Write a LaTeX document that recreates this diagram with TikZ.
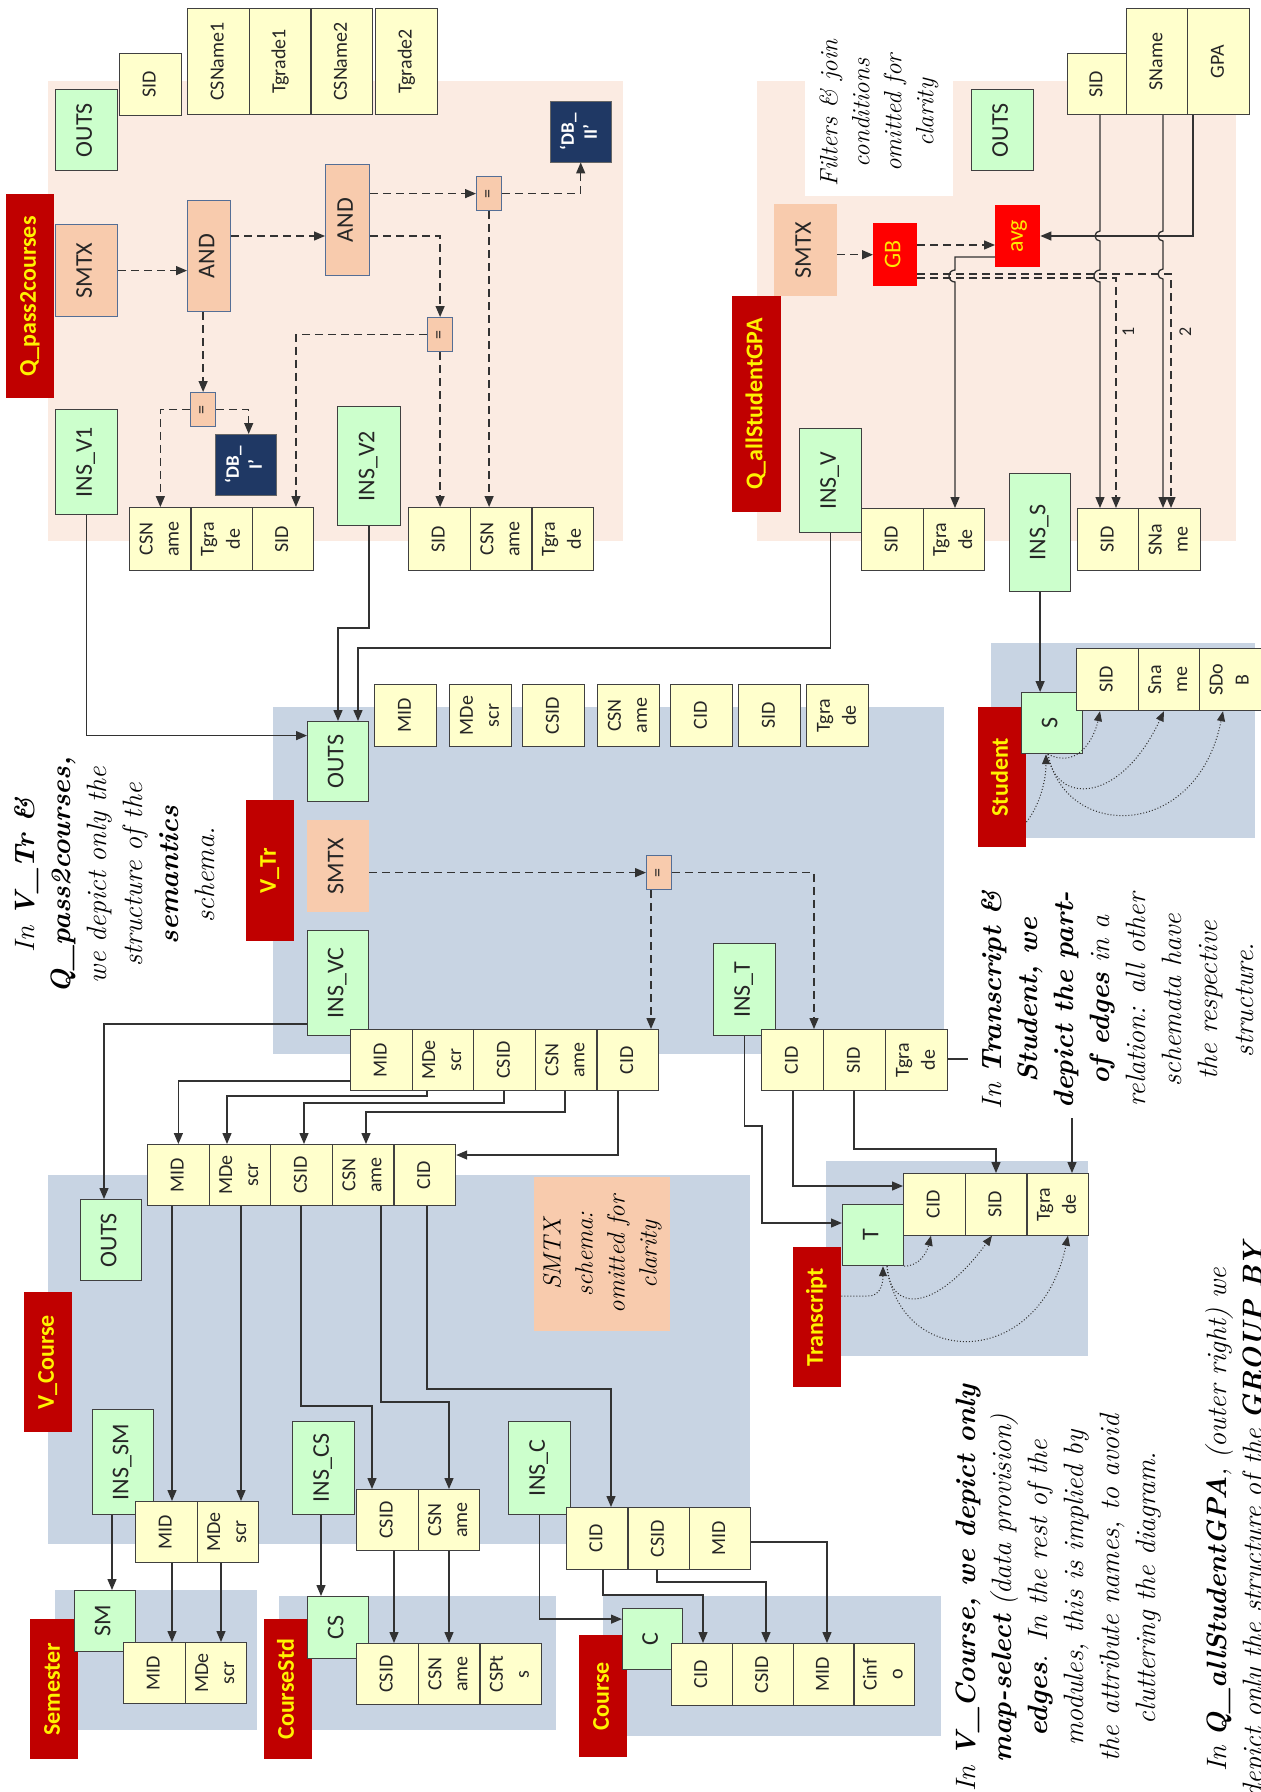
\documentclass[tikz,border=0pt]{standalone}
\usepackage{fontspec}
\setsansfont{Carlito}
\usepackage{graphicx}
\usetikzlibrary{arrows.meta, positioning, calc}

\definecolor{insgreen}{RGB}{204,255,204}
\definecolor{attryellow}{RGB}{255,255,204}
\definecolor{smtxpeach}{RGB}{248,203,173}
\definecolor{modblue}{RGB}{200,212,227}
\definecolor{qrypeach}{RGB}{251,235,226}
\definecolor{labelred}{RGB}{192,0,0}
\definecolor{dbblue}{RGB}{31,56,100}
\definecolor{opborder}{RGB}{84,110,150}
\definecolor{edgegray}{RGB}{50,50,50}

\newcommand{\vtext}[1]{\rotatebox{90}{\begin{tabular}{@{}c@{}}#1\end{tabular}}}

\begin{document}
\begin{tikzpicture}[x=1pt, y=-1pt,
    ins/.style={draw=black!75, fill=insgreen, line width=1.2pt, inner sep=0pt,
      text=black!85, font=\sffamily\fontsize{24}{26}\selectfont},
    attr/.style={draw=black!75, fill=attryellow, line width=1.2pt, inner sep=0pt,
      minimum width=61.5pt, minimum height=61.5pt, text=black!85,
      font=\sffamily\fontsize{20}{26}\selectfont},
    smtx/.style={fill=smtxpeach, inner sep=0pt, text=black!85,
      font=\sffamily\fontsize{24}{26}\selectfont},
    op/.style={smtx, draw=opborder, line width=1.2pt},
    eqop/.style={op, minimum width=25pt, minimum height=34pt,
      font=\sffamily\fontsize{18}{20}\selectfont},
    db/.style={draw=black!60, fill=dbblue, text=white, inner sep=0pt, minimum width=61pt,
      minimum height=61pt, font=\sffamily\bfseries\fontsize{19}{23}\selectfont},
    agg/.style={fill=red, text=yellow!90!orange, inner sep=0pt,
      font=\sffamily\fontsize{24}{26}\selectfont},
    modlabel/.style={fill=labelred, text=yellow, inner sep=0pt, minimum width=48pt,
      font=\sffamily\bfseries\fontsize{24}{28}\selectfont},
    note/.style={inner sep=0pt, font=\rmfamily\itshape\fontsize{28}{36}\selectfont},
    conn/.style={draw=edgegray, line width=1.3pt, -{Triangle[length=11pt, width=9pt]}},
    ctrl/.style={conn, dash pattern=on 8pt off 5pt},
    part/.style={draw=edgegray, line width=1pt, dotted, -{Triangle[length=10pt, width=8pt]}},
  ]
  \useasboundingbox (0,0) rectangle (1261,1792);

  % query and module panels
  \fill[qrypeach] (48,81) rectangle (623,541);
  \fill[qrypeach] (757,81) rectangle (1236,541);
  \foreach \a/\b/\c/\d in {273/707/944/1054, 991/643/1255/838, 826/1161/1088/1356,
      48/1175/750/1544, 55/1590/257/1730, 279/1596/556/1730, 603/1596/941/1736}
    \fill[modblue] (\a,\b) rectangle (\c,\d);

  % module names
  \node[modlabel, anchor=north west, minimum height=204pt] (qpLabel) at (6,194) {\vtext{Q\_pass2courses}};
  \node[modlabel, anchor=north west, minimum width=49pt, minimum height=216pt] (qgLabel) at (732,296) {\vtext{Q\_allStudentGPA}};
  \node[modlabel, anchor=north west, minimum height=141pt] (trLabel) at (246,800) {\vtext{V\_Tr}};
  \node[modlabel, anchor=north west, minimum height=140pt] (stLabel) at (978,707) {\vtext{Student}};
  \node[modlabel, anchor=north west, minimum height=140pt] (tsLabel) at (793,1247) {\vtext{Transcript}};
  \node[modlabel, anchor=north west, minimum height=140pt] (vcLabel) at (24,1292) {\vtext{V\_Course}};
  \node[modlabel, anchor=north west, minimum height=140pt] (smLabel) at (30,1619) {\vtext{Semester}};
  \node[modlabel, anchor=north west, minimum height=140pt] (csLabel) at (264,1619) {\vtext{CourseStd}};
  \node[modlabel, anchor=north west, minimum height=122pt] (coLabel) at (579,1635) {\vtext{Course}};

  % Q_pass2courses
  \node[ins, anchor=north west, minimum width=62pt, minimum height=81pt] (qpOuts) at (55,89) {\vtext{OUTS}};
  \node[attr, anchor=north west] (qpOutSid) at (119,53) {\vtext{SID}};
  \foreach \nm/\tx [count=\i from 0] in {Cn1/CSName1, Tg1/Tgrade1, Cn2/CSName2}
    \node[attr, anchor=north west, minimum height=106pt] (qpOut\nm) at ({187+61.7*\i},8) {\vtext{\tx}};
  \node[attr, anchor=north west, minimum height=106pt] (qpOutTg2) at (375,8) {\vtext{Tgrade2}};
  \node[op, anchor=north west, minimum width=62pt, minimum height=92pt] (qpSmtx) at (55,224) {\vtext{SMTX}};
  \node[op, anchor=north west, minimum width=43pt, minimum height=111pt] (qpAnd1) at (187,200) {\vtext{AND}};
  \node[op, anchor=north west, minimum width=44pt, minimum height=111pt] (qpAnd2) at (325,164) {\vtext{AND}};
  \node[eqop, anchor=north west] (qpEq1) at (190,392) {\vtext{=}};
  \node[eqop, anchor=north west] (qpEq2) at (427,317) {\vtext{=}};
  \node[eqop, anchor=north west] (qpEq3) at (476,176) {\vtext{=}};
  \node[db, anchor=north west] (qpDb1) at (215,434) {\vtext{`DB\_\\I'}};
  \node[db, anchor=north west] (qpDb2) at (550,101) {\vtext{`DB\_\\II'}};
  \node[ins, anchor=north west, minimum width=62pt, minimum height=105pt] (qpInsA) at (55,409) {\vtext{INS\_V1}};
  \node[ins, anchor=north west, minimum width=63pt, minimum height=119pt] (qpInsB) at (337,406) {\vtext{INS\_V2}};
  \foreach \nm/\tx [count=\i from 0] in {Csn/CSN\\ame, Tgr/Tgra\\de, Sid/SID}
    \node[attr, anchor=north west, minimum height=63pt] (qpA\nm) at ({129+61.3*\i},507) {\vtext{\tx}};
  \foreach \nm/\tx [count=\i from 0] in {Sid/SID, Csn/CSN\\ame, Tgr/Tgra\\de}
    \node[attr, anchor=north west, minimum height=63pt] (qpB\nm) at ({408+61.7*\i},507) {\vtext{\tx}};

  % Q_allStudentGPA
  \node[note, fill=white, inner sep=10pt, font=\rmfamily\itshape\fontsize{25}{32}\selectfont] (qgNote) at (879,113)
    {\vtext{Filters \& join\\conditions\\omitted for\\clarity}};
  \node[ins, anchor=north west, minimum width=62pt, minimum height=81pt] (qgOuts) at (971,89) {\vtext{OUTS}};
  \node[attr, anchor=north west, minimum width=59pt, minimum height=61pt] (qgOutSid) at (1067,53) {\vtext{SID}};
  \node[attr, anchor=north west, minimum width=61pt, minimum height=106pt] (qgOutSna) at (1126,8) {\vtext{SName}};
  \node[attr, anchor=north west, minimum width=62pt, minimum height=106pt] (qgOutGpa) at (1187,8) {\vtext{GPA}};
  \node[smtx, anchor=north west, minimum width=63pt, minimum height=92pt] (qgSmtx) at (774,204) {\vtext{SMTX}};
  \node[agg, anchor=north west, minimum width=44pt, minimum height=63pt] (qgGb) at (873,223) {\vtext{GB}};
  \node[agg, anchor=north west, minimum width=45pt, minimum height=62pt] (qgAvg) at (995,205) {\vtext{avg}};
  \node[ins, anchor=north west, minimum width=62pt, minimum height=104pt] (qgInsV) at (799,428) {\vtext{INS\_V}};
  \node[ins, anchor=north west, minimum width=61pt, minimum height=118pt] (qgInsS) at (1009,473) {\vtext{INS\_S}};
  \foreach \nm/\tx [count=\i from 0] in {Sid/SID, Tgr/Tgra\\de}
    \node[attr, anchor=north west, minimum height=62pt] (qgV\nm) at ({861+61.5*\i},508) {\vtext{\tx}};
  \foreach \nm/\tx [count=\i from 0] in {Sid/SID, Sna/SNa\\me}
    \node[attr, anchor=north west, minimum height=62pt] (qgS\nm) at ({1077+61*\i},508) {\vtext{\tx}};
  \node[font=\sffamily\fontsize{18}{20}\selectfont, text=black!85] (qgOne) at (1130,332) {\vtext{1}};
  \node[font=\sffamily\fontsize{18}{20}\selectfont, text=black!85] (qgTwo) at (1187,332) {\vtext{2}};

  % V_Tr
  \node[ins, anchor=north west, minimum width=61pt, minimum height=80pt] (trOuts) at (307,721) {\vtext{OUTS}};
  \foreach \nm/\tx/\xx in {Mid/MID/374, Mde/MDe\\scr/449, Csid/CSID/522, Csn/CSN\\ame/597,
      Cid/CID/670, Sid/SID/738, Tgr/Tgra\\de/806}
    \node[attr, anchor=north west, minimum width=62pt, minimum height=62pt] (trOut\nm) at (\xx,684) {\vtext{\tx}};
  \node[smtx, anchor=north west, minimum width=62pt, minimum height=92pt] (trSmtx) at (307,820) {\vtext{SMTX}};
  \node[ins, anchor=north west, minimum width=61pt, minimum height=105pt] (trInsVc) at (307,930) {\vtext{INS\_VC}};
  \node[eqop, anchor=north west] (trEq) at (646,855) {\vtext{=}};
  \foreach \nm/\tx [count=\i from 0] in {Mid/MID, Mde/MDe\\scr, Csid/CSID, Csn/CSN\\ame, Cid/CID}
    \node[attr, anchor=north west, minimum width=61.6pt, minimum height=61pt] (trVc\nm) at ({350+61.6*\i},1029) {\vtext{\tx}};
  \node[ins, anchor=north west, minimum width=62pt, minimum height=92pt] (trInsT) at (713,943) {\vtext{INS\_T}};
  \foreach \nm/\tx [count=\i from 0] in {Cid/CID, Sid/SID, Tgr/Tgra\\de}
    \node[attr, anchor=north west, minimum width=62pt, minimum height=61pt] (trT\nm) at ({761+62*\i},1029) {\vtext{\tx}};

  % Transcript and Student
  \node[ins, anchor=north west, minimum width=61pt, minimum height=61pt] (tsT) at (842,1204) {\vtext{T}};
  \foreach \nm/\tx [count=\i from 0] in {Cid/CID, Sid/SID, Tgr/Tgra\\de}
    \node[attr, anchor=north west] (ts\nm) at ({903+61.7*\i},1173) {\vtext{\tx}};
  \node[ins, anchor=north west, minimum width=61pt, minimum height=61pt] (stS) at (1021,692) {\vtext{S}};
  \foreach \nm/\tx [count=\i from 0] in {Sid/SID, Sna/Sna\\me, Sdo/SDo\\B}
    \node[attr, anchor=north west, minimum height=62pt] (st\nm) at ({1076+61.5*\i},648) {\vtext{\tx}};

  % V_Course
  \node[ins, anchor=north west, minimum width=61pt, minimum height=81pt] (vcOuts) at (80,1199) {\vtext{OUTS}};
  \foreach \nm/\tx [count=\i from 0] in {Mid/MID, Mde/MDe\\scr, Csid/CSID, Csn/CSN\\ame, Cid/CID}
    \node[attr, anchor=north west, minimum width=61.6pt, minimum height=61pt] (vc\nm) at ({147+61.6*\i},1144) {\vtext{\tx}};
  \node[ins, anchor=north west, minimum width=61pt, minimum height=105pt] (vcInsSm) at (92,1409) {\vtext{INS\_SM}};
  \foreach \nm/\tx [count=\i from 0] in {Mid/MID, Mde/MDe\\scr}
    \node[attr, anchor=north west, minimum height=61pt] (vcSm\nm) at ({135+61.5*\i},1501) {\vtext{\tx}};
  \node[ins, anchor=north west, minimum width=62pt, minimum height=93pt] (vcInsCs) at (292,1421) {\vtext{INS\_CS}};
  \foreach \nm/\tx [count=\i from 0] in {Csid/CSID, Csn/CSN\\ame}
    \node[attr, anchor=north west, minimum height=61pt] (vcCs\nm) at ({356+61.5*\i},1489) {\vtext{\tx}};
  \node[ins, anchor=north west, minimum width=62pt, minimum height=93pt] (vcInsC) at (508,1421) {\vtext{INS\_C}};
  \foreach \nm/\tx [count=\i from 0] in {Cid/CID, Csid/CSID, Mid/MID}
    \node[attr, anchor=north west, minimum width=61.3pt, minimum height=62pt] (vcC\nm) at ({566+61.3*\i},1507) {\vtext{\tx}};
  \node[note, fill=smtxpeach, anchor=north west, minimum width=136pt, minimum height=154pt,
    font=\rmfamily\itshape\fontsize{25}{32}\selectfont] (vcNote) at (534,1177)
    {\vtext{SMTX\\schema:\\omitted for\\clarity}};

  % Semester, CourseStd, Course
  \node[ins, anchor=north west, minimum width=61pt, minimum height=61pt] (semSm) at (74,1590) {\vtext{SM}};
  \foreach \nm/\tx [count=\i from 0] in {Mid/MID, Mde/MDe\\scr}
    \node[attr, anchor=north west, minimum height=61pt] (sem\nm) at ({123+61.5*\i},1642) {\vtext{\tx}};
  \node[ins, anchor=north west, minimum width=61pt, minimum height=62pt] (csdCs) at (307,1596) {\vtext{CS}};
  \foreach \nm/\tx [count=\i from 0] in {Csid/CSID, Csn/CSN\\ame, Cspt/CSPt\\s}
    \node[attr, anchor=north west, minimum height=61pt] (csd\nm) at ({356+61.7*\i},1643) {\vtext{\tx}};
  \node[ins, anchor=north west, minimum width=60pt, minimum height=61pt] (coC) at (622,1608) {\vtext{C}};
  \foreach \nm/\tx [count=\i from 0] in {Cid/CID, Csid/CSID, Mid/MID, Cinf/Cinf\\o}
    \node[attr, anchor=north west, minimum width=60.8pt, minimum height=62pt] (co\nm) at ({671+60.8*\i},1643) {\vtext{\tx}};

  % semantics edges of Q_pass2courses
  \draw[ctrl] (qpSmtx.east) -- (qpSmtx.east -| qpAnd1.west);
  \draw[ctrl] (qpAnd1.east |- 0,236) -- (qpAnd2.west |- 0,236);
  \draw[ctrl] (qpEq1.north |- qpAnd1.south) -- (qpEq1.north);
  \draw[ctrl] (qpEq1.west) -| (qpACsn.north);
  \draw[ctrl] (qpEq1.east) -| ([xshift=3pt]qpDb1.north);
  \draw[ctrl] (qpAnd2.east |- 0,236) -| (qpEq2.north);
  \draw[ctrl] (qpEq2.west) -| ([xshift=13pt]qpASid.north);
  \draw[ctrl] (qpEq2.south) -- (qpEq2.south |- qpBSid.north);
  \draw[ctrl] (qpAnd2.east |- qpEq3.west) -- (qpEq3.west);
  \draw[ctrl] (qpEq3.east) -| (qpDb2.south);
  \draw[ctrl] (qpEq3.south) -- (qpEq3.south |- qpBCsn.north);

  % Q_allStudentGPA
  \draw[ctrl] (qgSmtx.east |- qgGb.west) -- (qgGb.west);
  \draw[ctrl] (qgGb.east |- 0,245) -- (qgAvg.west |- 0,245);
  \draw[conn] (1193,0 |- qgOutGpa.south) -- (1193,236) -- (qgAvg.east |- 0,236);
  \draw[conn] (1100,0 |- qgOutSid.south) -- (1100,231) arc[start angle=90, end angle=270, radius=5pt]
    -- (1100,270) arc[start angle=90, end angle=270, radius=6pt] -- (1100,0 |- qgSSid.north);
  \draw[conn] (1163,0 |- qgOutSna.south) -- (1163,231) arc[start angle=90, end angle=270, radius=5pt]
    -- (1163,269) arc[start angle=90, end angle=270, radius=5pt] -- (1163,0 |- qgSSna.north);
  \draw[conn] (qgAvg.west |- 0,257) -- (955,257) -- (955,270) arc[start angle=90, end angle=270, radius=6pt]
    -- (955,0 |- qgVTgr.north);
  \draw[ctrl] (qgGb.east |- 0,278) -- (1116,278) -- (1116,0 |- qgSSid.north);
  \draw[ctrl] (qgGb.east |- 0,274) -- (1171,274) -- (1171,0 |- qgSSna.north);
  \draw[conn] (qgInsS.south) -- (qgInsS.south |- stS.north);

  % data into V_Tr
  \draw[conn] (qpInsA.south) |- ([yshift=26pt]trOuts.west);
  \draw[conn] (qpInsB.south) -- (qpInsB.south |- 0,628) -- (338,628) -- (338,0 |- trOuts.north);
  \draw[conn] (qgInsV.south) -- (qgInsV.south |- 0,648) -- (358,648) -- (358,0 |- trOuts.north);

  % V_Tr
  \draw[ctrl] (trSmtx.east |- trEq.west) -- (trEq.west);
  \draw[ctrl] (651,0 |- trEq.south) -- (651,0 |- trVcCid.north);
  \draw[ctrl] (trEq.east) -| (814,0 |- trTCid.north);
  \draw[conn] (trVcMid.west |- 0,1081) -| (vcMid.north);
  \draw[conn] (427,0 |- trVcMde.south) |- (227,1096) -- (227,0 |- vcMde.north);
  \draw[conn] (504,0 |- trVcCsid.south) |- (304,1103) -- (304,0 |- vcCsid.north);
  \draw[conn] (565,0 |- trVcCsn.south) |- (366,1112) -- (366,0 |- vcCsn.north);
  \draw[conn] (618,0 |- trVcCid.south) |- (vcCid.east |- 0,1155);
  \draw[conn] (trInsVc.west |- 0,1024) -| (104,0 |- vcOuts.north);
  \draw[conn] (trInsT.south) |- (762,1126) |- (tsT.west |- 0,1223);
  \draw[conn] (793,0 |- trTCid.south) |- (tsCid.west |- 0,1186);
  \draw[conn] (854,0 |- trTSid.south) |- (996,1149) -- (996,0 |- tsSid.north);
  \draw[conn] (trTTgr.east |- 0,1059) -| (1072,0 |- tsTgr.north);

  % part-of edges
  \draw[part] (tsLabel.east |- 0,1296) -- (868,1296) .. controls (880,1296) and (883,1285) .. (883,0 |- tsT.south);
  \draw[part] (tsT.south east) .. controls (920,1266) and (927,1252) .. (931,0 |- tsCid.south);
  \draw[part] (887,0 |- tsT.south) .. controls (890,1313) and (935,1313) .. (992,0 |- tsSid.south);
  \draw[part] (887,0 |- tsT.south) .. controls (900,1370) and (1040,1370) .. (1068,0 |- tsTgr.south);
  \draw[part] (stLabel.east |- 0,822) .. controls (1040,805) and (1046,780) .. (1046,0 |- stS.south);
  \draw[part] (1048,0 |- stS.south) .. controls (1080,770) and (1095,735) .. (1100,0 |- stSid.south);
  \draw[part] (1048,0 |- stS.south) .. controls (1055,805) and (1120,805) .. (1164,0 |- stSna.south);
  \draw[part] (1048,0 |- stS.south) .. controls (1065,841) and (1197,841) .. (1223,0 |- stSdo.south);

  % V_Course
  \draw[conn] (172,0 |- vcMid.south) -- (172,0 |- vcSmMid.north);
  \draw[conn] (241,0 |- vcMde.south) -- (241,0 |- vcSmMde.north);
  \draw[conn] (301,0 |- vcCsid.south) |- (372,1406) -- (372,0 |- vcCsCsid.north);
  \draw[conn] (381,0 |- vcCsn.south) |- (449,1402) -- (449,0 |- vcCsCsn.north);
  \draw[conn] (427,0 |- vcCid.south) |- (611,1389) -- (611,0 |- vcCCid.north);
  \draw[conn] (112,0 |- vcInsSm.south) -- (112,0 |- semSm.north);
  \draw[conn] (172,0 |- vcSmMid.south) -- (172,0 |- semMid.north);
  \draw[conn] (221,0 |- vcSmMde.south) -- (221,0 |- semMde.north);
  \draw[conn] (321,0 |- vcInsCs.south) -- (321,0 |- csdCs.north);
  \draw[conn] (394,0 |- vcCsCsid.south) -- (394,0 |- csdCsid.north);
  \draw[conn] (449,0 |- vcCsCsn.south) -- (449,0 |- csdCsn.north);
  \draw[conn] (vcInsC.south) |- ([yshift=20pt]coC.west);
  \draw[conn] (603,0 |- vcCCid.south) |- (703,1595) -- (703,0 |- coCid.north);
  \draw[conn] (657,0 |- vcCCsid.south) |- (766,1582) -- (766,0 |- coCsid.north);
  \draw[conn] (vcCMid.east |- 0,1542) -| (827,0 |- coMid.north);

  % notes
  \node[note] (trNote) at (117,875)
    {\vtext{In \textbf{V\_Tr \&}\\\textbf{Q\_pass2courses,}\\we depict only the\\structure of the\\\textbf{semantics}\\schema.}};
  \node[note, fill=white, inner sep=8pt] (tsNote) at (1120,1000)
    {\vtext{In \textbf{Transcript \&}\\\textbf{Student, we}\\\textbf{depict the part-}\\\textbf{of edges} in a\\relation: all other\\schemata have\\the respective\\structure.}};
  \node[note] (vcNoteTxt) at (1058,1588)
    {\vtext{In \textbf{V\_Course, we depict only}\\\textbf{map-select} (data provision)\\\textbf{edges}. In the rest of the\\modules, this is implied by\\the attribute names, to avoid\\cluttering the diagram.}};
  \node[note] (qgNoteTxt) at (1237,1520)
    {\vtext{In \textbf{Q\_allStudentGPA}, (outer right) we\\depict only the structure of the \textbf{GROUP BY}}};
\end{tikzpicture}
\end{document}
